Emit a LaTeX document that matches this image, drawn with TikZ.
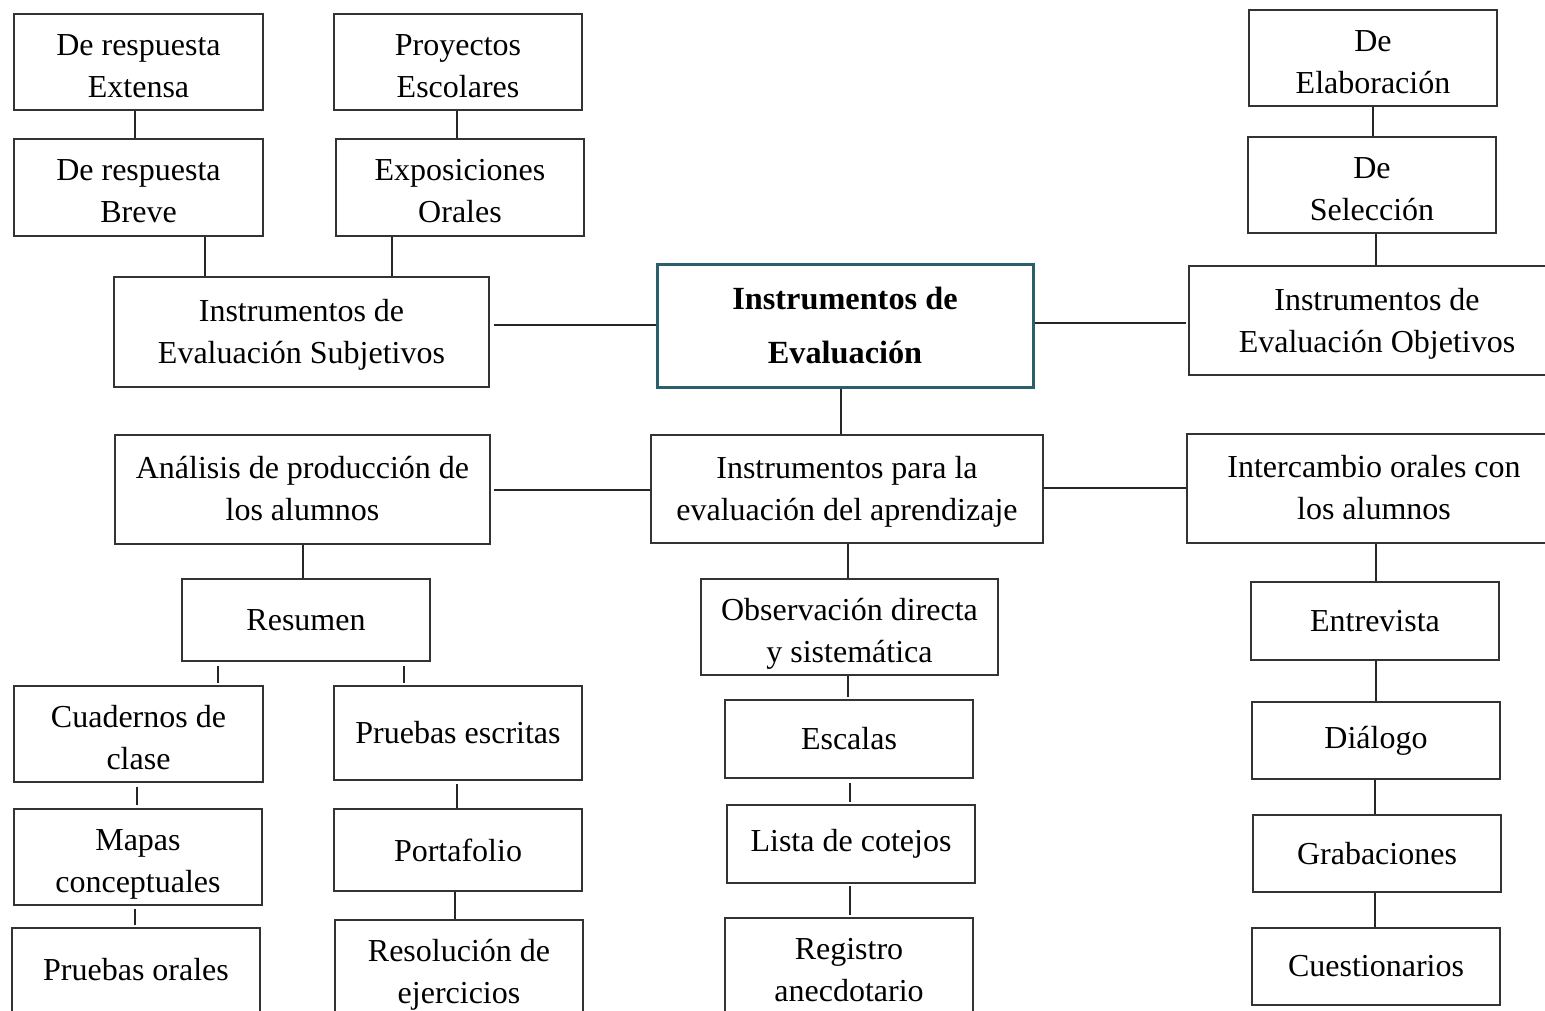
\documentclass[tikz,border=0pt]{standalone}
\usepackage{fontspec}
\setmainfont{Liberation Serif}
\newcommand\fsz{\fontsize{32}{42}\selectfont}
\newcommand\fsb{\fontsize{32.3}{54}\selectfont\bfseries}
\definecolor{teal0}{HTML}{2B5F6D}
\tikzset{
  box/.style={draw=black!80, line width=1.1pt, align=center, inner sep=0pt, font=\fsz, fill=white},
  mainbox/.style={draw=teal0, line width=3pt, align=center, inner sep=0pt, font=\fsb},
  link/.style={draw=black!85, line width=1.1pt}
}
\newcommand\bx[7][box]{\node[#1,minimum width={(#5-#3)*1pt},minimum height={(#6-#4)*1pt}] (#2) at ({(#3+#5)/2},{(#4+#6)/2}) {#7};}
\newcommand\bxt[7][12]{\node[box,minimum width={(#5-#3)*1pt},minimum height={(#6-#4)*1pt}] (#2) at ({(#3+#5)/2},{(#4+#6)/2}) {\raisebox{0pt}[\dimexpr\height+#1pt\relax][\depth]{\begin{tabular}{@{}c@{}}#7\end{tabular}}};}
\begin{document}
\begin{tikzpicture}[x=1pt,y=-1pt]
\useasboundingbox (0,0) rectangle (1545,1011);
\clip (0,0) rectangle (1545,1011);
\fill[white] (0,0) rectangle (1545,1011);
% top left
\bxt{ext}{14}{14}{263}{110}{De respuesta\\Extensa}
\bxt{proy}{334}{14}{582}{110}{Proyectos\\Escolares}
\bxt{brev}{14}{139}{263}{236}{De respuesta\\Breve}
\bxt{expo}{336}{139}{584}{236}{Exposiciones\\Orales}
\bxt[4]{subj}{114}{277}{489}{387}{Instrumentos de\\Evaluación Subjetivos}
% center
\bx[mainbox]{main}{657}{264}{1033}{387}{Instrumentos de\\Evaluación}
% top right
\bxt{elab}{1249}{10}{1497}{106}{De\\Elaboración}
\bxt{sele}{1248}{137}{1496}{233}{De\\Selección}
\bxt[6]{obj}{1189}{266}{1565}{375}{Instrumentos de\\Evaluación Objetivos}
% middle row
\bxt[3]{anal}{115}{435}{490}{544}{Análisis de producción de\\los alumnos}
\bxt[4]{para}{651}{435}{1043}{543}{Instrumentos para la\\evaluación del aprendizaje}
\bxt[4]{inter}{1187}{434}{1561}{543}{Intercambio orales con\\los alumnos}
% left column
\bx{resu}{182}{579}{430}{661}{Resumen}
\bxt{cuad}{14}{686}{263}{782}{Cuadernos de\\clase}
\bxt{mapa}{14}{809}{262}{905}{Mapas\\conceptuales}
\bx{orales}{12}{928}{260}{1012}{Pruebas orales}
\bx{escr}{334}{686}{582}{780}{Pruebas escritas}
\bx{port}{334}{809}{582}{891}{Portafolio}
\bxt{reso}{335}{921}{583}{1015}{Resolución de\\ejercicios}
% center column
\bxt{obs}{701}{579}{998}{675}{Observación directa\\y sistemática}
\bx{esca}{725}{700}{973}{778}{Escalas}
\bx{lista}{727}{805}{975}{883}{Lista de cotejos}
\bxt{regi}{725}{918}{973}{1014}{Registro\\anecdotario}
% right column
\bx{entr}{1251}{582}{1499}{660}{Entrevista}
\bx{dial}{1252}{702}{1500}{779}{Diálogo}
\bx{grab}{1253}{815}{1501}{892}{Grabaciones}
\bx{cues}{1252}{928}{1500}{1005}{Cuestionarios}
% connectors
\draw[link] (ext.south -| 135,0) -- (brev.north -| 135,0);
\draw[link] (proy.south -| 457,0) -- (expo.north -| 457,0);
\draw[link] (brev.south -| 205,0) -- (subj.north -| 205,0);
\draw[link] (expo.south -| 392,0) -- (subj.north -| 392,0);
\draw[link] ([xshift=4pt]subj.east |- 0,325) -- (main.west |- 0,325);
\draw[link] (main.east |- 0,323) -- ([xshift=-2pt]obj.west |- 0,323);
\draw[link] (elab.south -| 1373,0) -- (sele.north -| 1373,0);
\draw[link] (sele.south -| 1376,0) -- (obj.north -| 1376,0);
\draw[link] (main.south -| 841,0) -- (para.north -| 841,0);
\draw[link] ([xshift=3pt]anal.east |- 0,490) -- (para.west |- 0,490);
\draw[link] (para.east |- 0,488) -- (inter.west |- 0,488);
% left column
\draw[link] (anal.south -| 303,0) -- (resu.north -| 303,0);
\draw[link] ([yshift=-4pt]resu.south -| 218,0) -- ([yshift=2pt]cuad.north -| 218,0);
\draw[link] ([yshift=-4pt]resu.south -| 404,0) -- ([yshift=2pt]escr.north -| 404,0);
\draw[link] ([yshift=-4pt]cuad.south -| 137,0) -- ([yshift=3pt]mapa.north -| 137,0);
\draw[link] ([yshift=-3pt]mapa.south -| 135,0) -- ([yshift=2pt]orales.north -| 135,0);
\draw[link] ([yshift=-3pt]escr.south -| 457,0) -- (port.north -| 457,0);
\draw[link] (port.south -| 455,0) -- (reso.north -| 455,0);
% center column
\draw[link] (para.south -| 848,0) -- (obs.north -| 848,0);
\draw[link] (obs.south -| 848,0) -- ([yshift=2pt]esca.north -| 848,0);
\draw[link] ([yshift=-4pt]esca.south -| 850,0) -- ([yshift=2pt]lista.north -| 850,0);
\draw[link] ([yshift=-2pt]lista.south -| 850,0) -- ([yshift=2pt]regi.north -| 850,0);
% right column
\draw[link] (inter.south -| 1376,0) -- (entr.north -| 1376,0);
\draw[link] (entr.south -| 1376,0) -- (dial.north -| 1376,0);
\draw[link] (dial.south -| 1375,0) -- (grab.north -| 1375,0);
\draw[link] (grab.south -| 1375,0) -- (cues.north -| 1375,0);
\end{tikzpicture}
\end{document}
